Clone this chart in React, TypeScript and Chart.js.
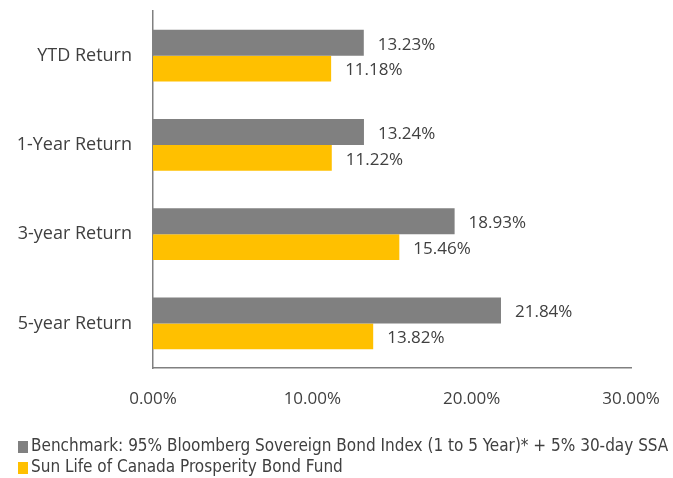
import React, { useEffect, useRef } from "react";
import { Chart, registerables } from "chart.js";

Chart.register(...registerables);

const categories = ["YTD Return", "1-Year Return", "3-year Return", "5-year Return"];
const benchmarkLabel = "Benchmark: 95% Bloomberg Sovereign Bond Index (1 to 5 Year)* + 5% 30-day SSA";
const fundLabel = "Sun Life of Canada Prosperity Bond Fund";
const benchmarkValues = [13.23, 13.24, 18.93, 21.84];
const fundValues = [11.18, 11.22, 15.46, 13.82];
const xTicks = [0, 10, 20, 30];

const GRAY = "#808080";
const YELLOW = "#FFC000";
const TEXT = "#404040";
const FONT = "'Open Sans', sans-serif";

const valueLabels = {
  id: "valueLabels",
  afterDatasetsDraw(chart: any) {
    const ctx = chart.ctx;
    ctx.save();
    ctx.font = `17px ${FONT}`;
    ctx.fillStyle = TEXT;
    ctx.textBaseline = "middle";
    ctx.textAlign = "left";
    chart.data.datasets.forEach((ds: any, di: number) => {
      const meta = chart.getDatasetMeta(di);
      meta.data.forEach((bar: any, i: number) => {
        ctx.fillText(ds.data[i].toFixed(2) + "%", bar.x + 14, bar.y + 2);
      });
    });
    ctx.restore();
  },
};

const customLegend = {
  id: "customLegend",
  afterDraw(chart: any) {
    const ctx = chart.ctx;
    ctx.save();
    ctx.font = `17px 'Liberation Sans Narrow', 'DejaVu Sans Condensed', sans-serif`;
    ctx.textBaseline = "middle";
    ctx.textAlign = "left";
    chart.data.datasets.forEach((ds: any, di: number) => {
      const y = 447 + di * 21;
      ctx.fillStyle = ds.backgroundColor;
      ctx.fillRect(18, y - 6, 10, 12);
      ctx.fillStyle = TEXT;
      ctx.fillText(ds.label, 31, y);
    });
    ctx.restore();
  },
};

export default function App() {
  const ref = useRef<HTMLCanvasElement>(null);
  useEffect(() => {
    document.body.style.margin = "0";
    const chart = new Chart(ref.current!, {
      type: "bar",
      data: {
        labels: categories,
        datasets: [
          { label: benchmarkLabel, data: benchmarkValues, backgroundColor: GRAY },
          { label: fundLabel, data: fundValues, backgroundColor: YELLOW },
        ],
      },
      options: {
        indexAxis: "y",
        animation: false,
        responsive: false,
        devicePixelRatio: 1,
        layout: { padding: { top: 11, right: 42, bottom: 0, left: 0 } },
        datasets: { bar: { categoryPercentage: 0.58, barPercentage: 1.0 } },
        plugins: { legend: { display: false }, tooltip: { enabled: false } },
        scales: {
          x: {
            min: 0,
            max: 30,
            afterBuildTicks: (s: any) => {
              s.ticks = xTicks.map((v) => ({ value: v }));
            },
            afterFit: (s: any) => {
              s.height = 110;
              s.paddingLeft = 0;
              s.paddingRight = 0;
            },
            grid: { display: false, drawTicks: false },
            border: { display: true, color: GRAY, width: 1.5 },
            ticks: {
              padding: 21,
              color: TEXT,
              font: { family: FONT, size: 17 },
              callback: (v: any) => Number(v).toFixed(2) + "%",
              maxRotation: 0,
            },
          },
          y: {
            afterFit: (s: any) => {
              s.width = 153;
              s.paddingTop = 0;
              s.paddingBottom = 0;
            },
            grid: { display: false, drawTicks: false },
            border: { display: true, color: GRAY, width: 1.5 },
            ticks: {
              padding: 21,
              color: TEXT,
              font: { family: FONT, size: 18 },
            },
          },
        },
      },
      plugins: [valueLabels, customLegend],
    });
    return () => chart.destroy();
  }, []);
  return <canvas ref={ref} width={673} height={478} style={{ display: "block", width: 673, height: 478 }} />;
}
